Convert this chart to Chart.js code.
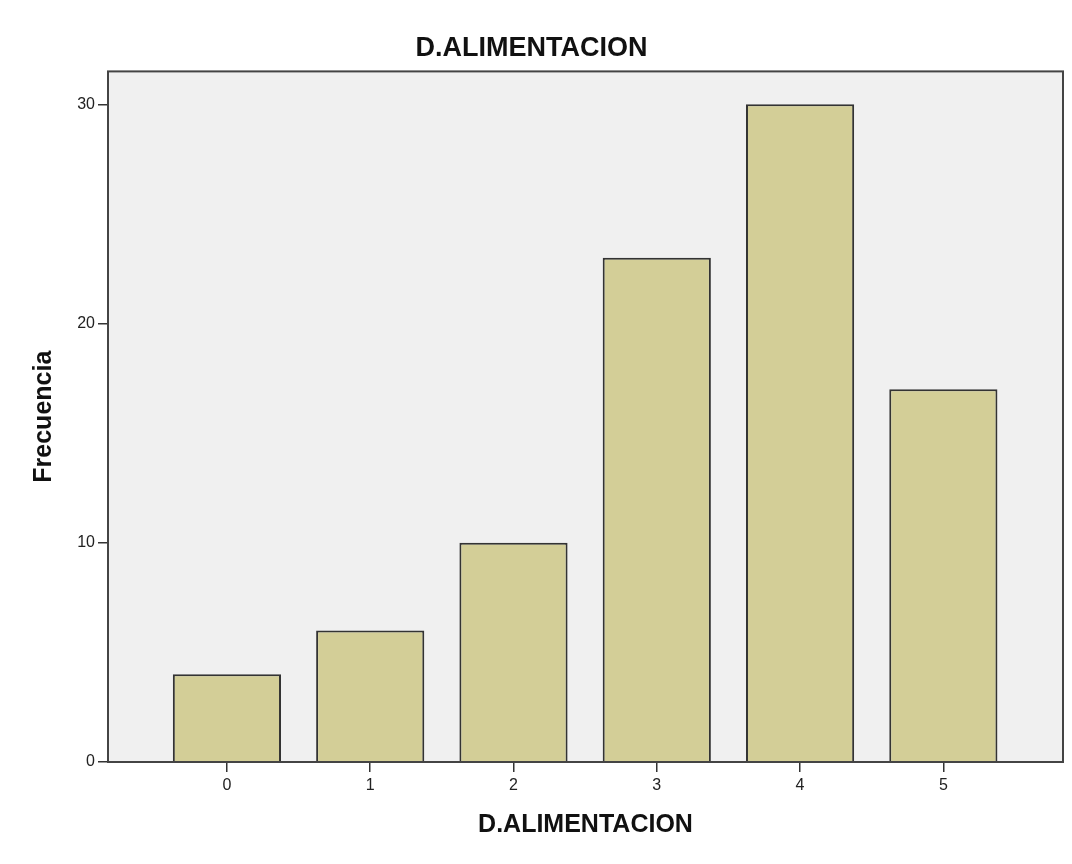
<!DOCTYPE html>
<html>
<head>
<meta charset="utf-8">
<script src="https://cdn.jsdelivr.net/npm/chart.js@4/dist/chart.umd.min.js"></script>
<style>
body { margin: 0; background: #fff; }
canvas { display: block; }
</style>
</head>
<body>
<canvas id="canvas1" width="1072" height="864"></canvas>
<script>
var categorias = [0, 1, 2, 3, 4, 5];
var frecuencias = [4, 6, 10, 23, 30, 17];
var yTicks = [0, 10, 20, 30];
var titulo = 'D.ALIMENTACION';
var tituloY = 'Frecuencia';

var fontFamily = '"Liberation Sans", Arial, sans-serif';

// fondo gris del area del grafico y marco alrededor
var marco = {
    id: 'marco',
    beforeDraw: function(chart) {
        var ctx = chart.ctx;
        var a = chart.chartArea;
        ctx.save();
        ctx.fillStyle = '#ffffff';
        ctx.fillRect(0, 0, chart.width, chart.height);
        ctx.fillStyle = '#f0f0f0';
        ctx.fillRect(a.left, a.top, a.right - a.left, a.bottom - a.top);
        ctx.restore();
    },
    afterDatasetsDraw: function(chart) {
        var ctx = chart.ctx;
        var a = chart.chartArea;
        ctx.save();
        ctx.strokeStyle = '#444444';
        ctx.lineWidth = 2;
        ctx.strokeRect(a.left, a.top, a.right - a.left, a.bottom - a.top);
        ctx.restore();
    }
};

var canvas1 = document.getElementById('canvas1');
var myChart1 = new Chart(canvas1, {
    type: 'bar',
    data: {
        datasets: [{
            label: 'Frecuencia',
            data: categorias.map(function(c, i) { return {x: c, y: frecuencias[i]}; }),
            backgroundColor: '#d3ce97',
            borderColor: '#333333',
            borderWidth: 2,
            categoryPercentage: 1,
            barPercentage: 0.755
        }]
    },
    options: {
        responsive: false,
        animation: false,
        layout: { padding: { left: 0, right: 9, top: 0, bottom: 0 } },
        plugins: {
            legend: { display: false },
            tooltip: { enabled: false },
            title: {
                display: true,
                text: titulo,
                color: '#111',
                font: { family: fontFamily, size: 27, weight: 'bold' },
                padding: { top: 32, bottom: 7 }
            }
        },
        scales: {
            x: {
                type: 'linear',
                offset: false,
                min: -0.83,
                max: 5.835,
                afterBuildTicks: function(scale) {
                    scale.ticks = categorias.map(function(v) { return {value: v}; });
                },
                afterFit: function(scale) { scale.height = 102; },
                grid: { offset: false, drawOnChartArea: false, drawTicks: true, tickLength: 10, color: '#333', lineWidth: 1.5 },
                border: { display: false },
                ticks: { color: '#222', padding: 4, font: { family: fontFamily, size: 16 } },
                title: {
                    display: true,
                    text: titulo,
                    color: '#111',
                    font: { family: fontFamily, size: 25, weight: 'bold' },
                    padding: { top: 0, bottom: 24 }
                }
            },
            y: {
                min: 0,
                max: 31.5,
                afterBuildTicks: function(scale) {
                    scale.ticks = yTicks.map(function(v) { return {value: v}; });
                },
                afterFit: function(scale) { scale.width = 108; },
                grid: { drawOnChartArea: false, drawTicks: true, tickLength: 10, color: '#333', lineWidth: 1.5 },
                border: { display: false },
                ticks: { color: '#222', padding: 3, font: { family: fontFamily, size: 16 } },
                title: {
                    display: true,
                    text: tituloY,
                    color: '#111',
                    font: { family: fontFamily, size: 25, weight: 'bold' },
                    padding: { top: 29, bottom: 0 }
                }
            }
        }
    },
    plugins: [marco]
});
</script>
</body>
</html>
